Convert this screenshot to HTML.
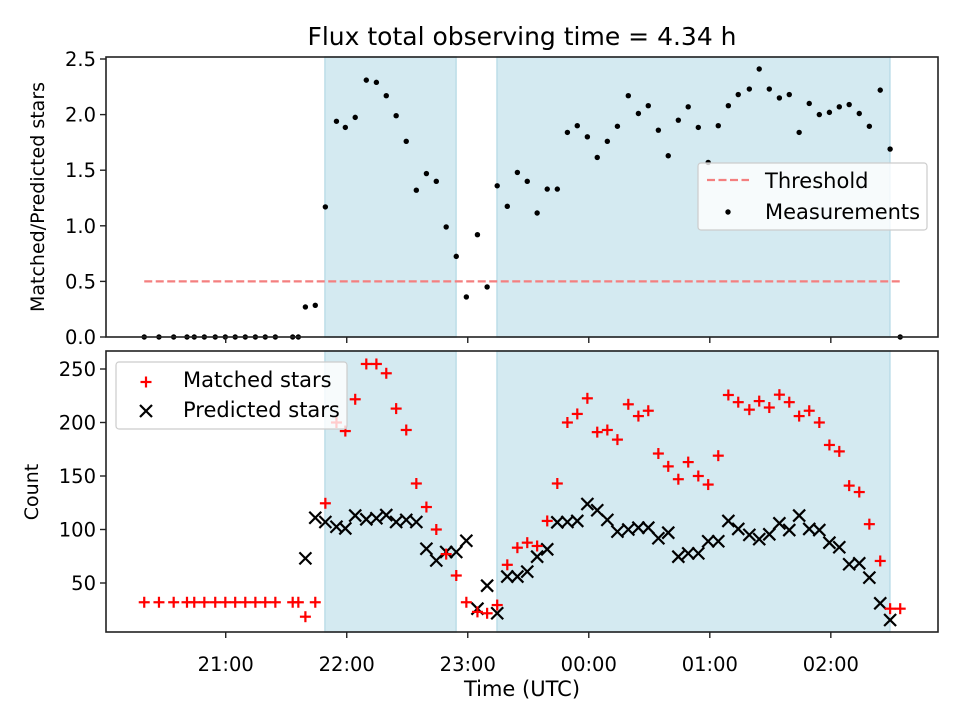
<!DOCTYPE html>
<html><head><meta charset="utf-8"><style>
html,body{margin:0;padding:0;background:#fff;}
svg{display:block;font-family:"DejaVu Sans","Liberation Sans",sans-serif;}
</style></head><body>
<svg id="fig" width="960" height="720" viewBox="0 0 960 720" xmlns="http://www.w3.org/2000/svg"></svg>
<script>
// ---- data (minutes since 20:00 UTC) ----
const zeroTimes = [19.6,26.9,34.2,40.8,44.4,49.4,54.8,59.8,64.7,69.7,74.7,79.6,84.6,93.2,96];
const zeroMatched = [32,32,32,32,32,32,32,32,32,32,32,32,32,32,32];
const times = [99.5,104.4,109.4,114.9,119.3,124.2,129.7,134.7,139.6,144.5,149.5,154.5,159.5,164.4,169.3,174.3,179.3,184.8,189.6,194.6,199.6,204.6,209.5,214.4,219.4,224.4,229.4,234.3,239.3,244.2,249.2,254.2,259.6,264.6,269.5,274.5,279.4,284.4,289.3,294.3,299.2,304.2,309.2,314.1,319.6,324.5,329.5,334.5,339.4,344.3,349.3,354.3,359.3,364.2,369.1,374.1,379.1,384.5,389.4,394.4];
const ratios = [0.27,0.285,1.17,1.94,1.885,1.975,2.31,2.29,2.17,1.99,1.76,1.32,1.47,1.40,0.99,0.725,0.36,0.92,0.45,1.36,1.175,1.48,1.40,1.115,1.33,1.33,1.84,1.90,1.80,1.615,1.76,1.895,2.17,2.01,2.08,1.86,1.63,1.95,2.07,1.885,1.57,1.90,2.08,2.18,2.23,2.41,2.23,2.15,2.18,1.84,2.10,2.00,2.02,2.07,2.09,2.01,1.895,2.22,1.69,0];
const matched = [18.5,32,124.5,200,192,221.7,254.7,254.7,246,213,193,143,121,100,77,57,32,23,21.7,29.4,67,83,87.7,84.6,108,143,200,208,222.6,191,193,184,217,206,211,171,159,147,163,150,142,169,225.7,219,212,220,214,226,219,206,211,200,179,173,141,135,105,70.6,26,26];
const predicted = [73,111,107,102.6,101,113,109.5,110.5,113.5,107,109,107,82,71,79,79,89.5,26,47.5,21.7,56,56,60.6,74.6,81.5,106.7,107,108,123.8,118,109,98,100,101.7,101.7,91.8,97,74.6,77.7,77.7,89,89,108,100.5,95,91,95.5,105.8,99.5,113,100.5,99.5,87.7,83.4,67.5,68.4,55,31,15.4,null];
const spans = [[109.2,174.2],[194.5,389.3]];
const threshold = 0.5;
const thresholdRange = [19.6,394.4];
const xTickMinutes = [60,120,180,240,300,360];
const xTickLabels = ["21:00","22:00","23:00","00:00","01:00","02:00"];
const topTicks = [0,0.5,1.0,1.5,2.0,2.5];
const topTickLabels = ["0.0","0.5","1.0","1.5","2.0","2.5"];
const botTicks = [50,100,150,200,250];

// ---- layout ----
const NS="http://www.w3.org/2000/svg";
const svg=document.getElementById('fig');
const L=106,R=938, T1=57,B1=337, T2=351,B2=632;
const FT=19.5, FL=21;
const X=t=>104.7+2.017*t;
const Y1=v=>337-111.2*v;
const Y2=v=>636.5-1.07*v;
function el(tag,attrs,parent){const e=document.createElementNS(NS,tag);for(const k in attrs)e.setAttribute(k,attrs[k]);(parent||svg).appendChild(e);return e;}
function txt(s,attrs,parent){const e=el('text',attrs,parent);e.textContent=s;return e;}

const title=txt("Flux total observing time = 4.34 h",{x:(L+R)/2,y:45,'text-anchor':'middle','font-size':25,fill:'#000'});



function drawPanel(T,B,name){
  const g=el('g',{});
  
  
  el('rect',{x:L,y:T,width:R-L,height:B-T,fill:'#fff'},g);
  spans.forEach(s=>{
    const r=el('rect',{x:X(s[0]),y:T,width:X(s[1])-X(s[0]),height:B-T,fill:'#d4eaf1',stroke:'#bcdde8','stroke-width':1.5},g);
    
    
  });
  return g;
}
const topG=drawPanel(T1,B1,'top-panel');
const botG=drawPanel(T2,B2,'bottom-panel');

const th=el('line',{x1:X(thresholdRange[0]),x2:X(thresholdRange[1]),y1:Y1(threshold),y2:Y1(threshold),stroke:'#f47f7f','stroke-width':2.2,'stroke-dasharray':'8,3.5'},topG);



zeroTimes.forEach(t=>{
  const c=el('circle',{cx:X(t),cy:Y1(0),r:2.7,fill:'#000'},topG);
  
  
});
times.forEach((t,i)=>{
  const c=el('circle',{cx:X(t),cy:Y1(ratios[i]),r:2.7,fill:'#000'},topG);
  
  
});

function plus(x,y,p,name){const g=el('g',{stroke:'#ff0000','stroke-width':2.2},p);
  
  
  el('line',{x1:x-5.5,x2:x+5.5,y1:y,y2:y},g);el('line',{x1:x,x2:x,y1:y-5.5,y2:y+5.5},g);return g;}
function cross(x,y,p,name){const g=el('g',{stroke:'#000','stroke-width':2.2},p);
  
  
  el('line',{x1:x-6,x2:x+6,y1:y-6,y2:y+6},g);el('line',{x1:x-6,x2:x+6,y1:y+6,y2:y-6},g);return g;}

times.forEach((t,i)=>{ if(predicted[i]!=null) cross(X(t),Y2(predicted[i]),botG,'predicted-star-marker'); });
zeroTimes.forEach((t,i)=>plus(X(t),Y2(zeroMatched[i]),botG,'matched-star-marker'));
times.forEach((t,i)=>plus(X(t),Y2(matched[i]),botG,'matched-star-marker'));

[[T1,B1],[T2,B2]].forEach(([T,B])=>{
  const f=el('rect',{x:L,y:T,width:R-L,height:B-T,fill:'none',stroke:'#222','stroke-width':1.6});
  
  
  xTickMinutes.forEach(m=>el('line',{x1:X(m),x2:X(m),y1:B,y2:B+6,stroke:'#222','stroke-width':1.4}));
});
xTickMinutes.forEach((m,i)=>{
  const t=txt(xTickLabels[i],{x:X(m),y:671,'text-anchor':'middle','font-size':FT,fill:'#000'});
  
  
});
topTicks.forEach((v,i)=>{
  el('line',{x1:L-6,x2:L,y1:Y1(v),y2:Y1(v),stroke:'#222','stroke-width':1.4});
  const t=txt(topTickLabels[i],{x:L-10,y:Y1(v)+7,'text-anchor':'end','font-size':FT,fill:'#000'});
  
  
});
botTicks.forEach(v=>{
  el('line',{x1:L-6,x2:L,y1:Y2(v),y2:Y2(v),stroke:'#222','stroke-width':1.4});
  const t=txt(String(v),{x:L-10,y:Y2(v)+7,'text-anchor':'end','font-size':FT,fill:'#000'});
  
  
});
const xl=txt("Time (UTC)",{x:(L+R)/2,y:696,'text-anchor':'middle','font-size':FL,fill:'#000'});


const yl1=txt("Matched/Predicted stars",{x:0,y:0,'text-anchor':'middle','font-size':19,fill:'#000',transform:'translate(44,197) rotate(-90)'});


const yl2=txt("Count",{x:0,y:0,'text-anchor':'middle','font-size':19,fill:'#000',transform:'translate(38,492) rotate(-90)'});



const lg1=el('g',{});


el('rect',{x:698,y:163,width:229,height:67,rx:3,fill:'rgba(255,255,255,0.8)',stroke:'#ccc','stroke-width':1.2},lg1);
el('line',{x1:707,x2:749,y1:180,y2:180,stroke:'#f47f7f','stroke-width':2.2,'stroke-dasharray':'8,3.5'},lg1);
txt("Threshold",{x:765,y:188,'font-size':FL,fill:'#000'},lg1);
el('circle',{cx:728,cy:212,r:2.7,fill:'#000'},lg1);
txt("Measurements",{x:765,y:219,'font-size':FL,fill:'#000'},lg1);

const lg2=el('g',{});


el('rect',{x:116,y:362,width:231,height:67,rx:3,fill:'rgba(255,255,255,0.8)',stroke:'#ccc','stroke-width':1.2},lg2);
plus(146,382,lg2,'legend-matched-marker');
txt("Matched stars",{x:183,y:387,'font-size':FL,fill:'#000'},lg2);
cross(146,411,lg2,'legend-predicted-marker');
txt("Predicted stars",{x:183,y:417,'font-size':FL,fill:'#000'},lg2);
</script>
</body></html>
